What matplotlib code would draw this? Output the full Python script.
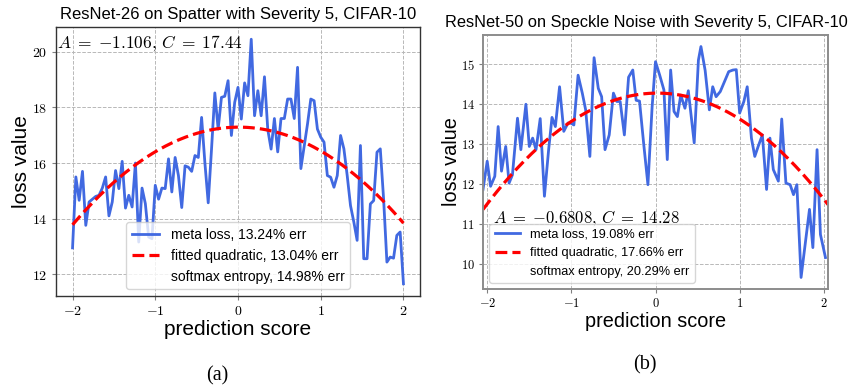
import numpy as np
import matplotlib
matplotlib.use("Agg")
import matplotlib.pyplot as plt
from matplotlib.lines import Line2D
from matplotlib.ticker import FuncFormatter

plt.rcParams['mathtext.fontset'] = 'cm'
plt.rcParams['font.family'] = ['Liberation Sans', 'DejaVu Sans']

# ---------------------------
# (a) ResNet-26, Spatter
# ---------------------------
meta_a = [12.95, 15.5, 14.66, 15.7, 13.76, 14.6, 14.7, 14.8, 14.84, 15.1,
          15.5, 14.1, 14.6, 15.73, 15.08, 16.06, 14.38, 14.84, 14.42, 16.0,
          13.16, 15.1, 14.54, 13.34, 13.28, 15.2, 14.7, 15.1, 15.08, 16.15,
          14.96, 16.2, 15.55, 14.4, 15.9, 15.85, 15.7, 16.27, 16.2, 17.64,
          16.0, 14.57, 16.5, 18.52, 17.22, 18.36, 18.4, 18.96, 16.99, 18.18,
          18.72, 17.58, 18.88, 18.42, 20.45, 17.7, 18.6, 17.7, 19.1, 17.2,
          16.5, 17.6, 16.4, 17.6, 17.6, 18.3, 18.3, 17.6, 19.44, 15.8,
          16.6, 17.4, 18.3, 18.24, 17.22, 16.93, 16.75, 15.55, 15.49, 15.13,
          15.55, 16.99, 16.51, 15.55, 14.47, 13.88, 13.22, 16.63, 12.56, 12.56,
          14.53, 14.65, 16.39, 16.51, 14.71, 12.44, 12.62, 12.58, 13.4, 13.52,
          11.66]
# fitted curve: a*x^2 + b*x + c
fit_a = [-0.87, 0.015, 17.29]
labels_a = ["meta loss, 13.24% err", "fitted quadratic, 13.04% err",
            "softmax entropy, 14.98% err"]
title_a = "ResNet-26 on Spatter with Severity 5, CIFAR-10"
coef_a = r"$A\;=\;{-}1.106,\,C\;=\;17.44$"

# ---------------------------
# (b) ResNet-50, Speckle Noise
# ---------------------------
x_b = [-2.05, -2.0, -1.96, -1.91, -1.87, -1.83, -1.78, -1.74, -1.70, -1.64,
       -1.60, -1.54, -1.50, -1.46, -1.42, -1.37, -1.32, -1.27, -1.23, -1.19,
       -1.14, -1.09, -1.04, -1.00, -0.97, -0.92, -0.87, -0.83, -0.78, -0.73,
       -0.68, -0.64, -0.60, -0.55, -0.50, -0.46, -0.42, -0.37, -0.32, -0.27,
       -0.23, -0.19, -0.14, -0.09, -0.04, 0.0, 0.05, 0.10, 0.14, 0.18,
       0.22, 0.26, 0.30, 0.35, 0.39, 0.46, 0.51, 0.54, 0.59, 0.64,
       0.68, 0.72, 0.77, 0.82, 0.87, 0.92, 0.96, 1.00, 1.05, 1.09,
       1.14, 1.18, 1.22, 1.27, 1.32, 1.36, 1.40, 1.46, 1.50, 1.55,
       1.60, 1.64, 1.68, 1.73, 1.83, 1.87, 1.92, 1.96, 2.02]
meta_b = [11.86, 12.57, 11.94, 12.19, 13.44, 12.32, 12.94, 12.02, 12.23, 13.65,
          12.86, 14.0, 12.94, 13.15, 12.86, 13.64, 11.69, 12.86, 13.67, 13.44,
          14.44, 13.32, 13.53, 13.52, 13.48, 14.73, 14.28, 13.86, 12.69, 15.17,
          14.4, 14.19, 12.86, 13.23, 14.28, 14.07, 14.07, 13.23, 14.68, 14.86,
          14.1, 14.08, 13.0, 11.98, 13.94, 15.07, 14.73, 14.36, 12.61, 14.86,
          13.82, 13.69, 14.23, 13.9, 14.34, 13.03, 15.11, 15.45, 14.85, 13.86,
          14.44, 14.19, 14.32, 14.57, 14.82, 14.86, 14.87, 13.78, 14.07, 14.44,
          13.15, 12.69, 12.94, 13.23, 11.86, 13.15, 12.36, 12.07, 13.63, 12.02,
          11.98, 11.73, 11.98, 9.65, 11.36, 10.4, 12.86, 10.73, 10.15]
fit_b = [-0.6808, 0.03, 14.28]
labels_b = ["meta loss, 19.08% err", "fitted quadratic, 17.66% err",
            "softmax entropy, 20.29% err"]
title_b = "ResNet-50 on Speckle Noise with Severity 5, CIFAR-10"
coef_b = r"$A\;=\;{-}0.6808,\,C\;=\;14.28$"

x_a = np.linspace(-2, 2, len(meta_a))

fig = plt.figure(figsize=(8.52, 3.87), dpi=100)
W, H = 852.0, 387.0
ax1 = fig.add_axes([56 / W, 1 - 296 / H, 364 / W, 269 / H])
ax2 = fig.add_axes([483 / W, 1 - 289 / H, 345 / W, 254 / H])

mathfmt = FuncFormatter(lambda v, p: r"$%g$" % v)


def draw(ax, x, y, fit, xfit, labels, tick_fs, spine_col, spine_w):
    ax.plot(x, y, color="royalblue", lw=2.0, label=labels[0])
    ax.plot(xfit, np.polyval(fit, xfit), color="red", ls="--", lw=2.3,
            label=labels[1])
    ax.grid(True, ls="--", lw=0.7, color="0.72")
    ax.set_axisbelow(True)
    for s in ax.spines.values():
        s.set_color(spine_col)
        s.set_linewidth(spine_w)
    ax.xaxis.set_major_formatter(mathfmt)
    ax.yaxis.set_major_formatter(mathfmt)
    ax.tick_params(length=3, width=0.8, color="0.5", labelsize=tick_fs, pad=3)
    handles = [Line2D([], [], color="royalblue", lw=2.0),
               Line2D([], [], color="red", ls="--", lw=2.3),
               Line2D([], [], ls="none")]
    return handles


# left panel
xf_a = np.linspace(-2, 2, 200)
h1 = draw(ax1, x_a, meta_a, fit_a, xf_a, labels_a, 10, "0.2", 1.0)
ax1.set_xticks([-2, -1, 0, 1, 2])
ax1.set_yticks([12, 14, 16, 18, 20])
ax1.set_title(title_a, fontsize=12, pad=6)
ax1.set_xlabel("prediction score", fontsize=15, labelpad=1)
ax1.set_ylabel("loss value", fontsize=15, labelpad=1)
ax1.text(0.003, 0.975, coef_a, transform=ax1.transAxes, ha="left", va="top",
         fontsize=12.5)
ax1.legend(h1, labels_a, loc="lower center", fontsize=10, framealpha=0.8)

# right panel
xf_b = np.linspace(-2.05, 2.05, 200)
h2 = draw(ax2, x_b, meta_b, fit_b, xf_b, labels_b, 9, "0.55", 1.4)
ax2.set_xlim(-2.05, 2.05)
ax2.set_xticks([-2, -1, 0, 1, 2])
ax2.set_yticks([10, 11, 12, 13, 14, 15])
ax2.set_title(title_b, fontsize=11.8, pad=6, x=0.474)
ax2.set_xlabel("prediction score", fontsize=14.3, labelpad=1)
ax2.set_ylabel("loss value", fontsize=14.3, labelpad=0)
ax2.text(0.03, 0.262, coef_b, transform=ax2.transAxes, ha="left",
         va="baseline", fontsize=12)
ax2.legend(h2, labels_b, loc="lower left", fontsize=9.2, framealpha=0.8)

fig.text(217 / W, 1 - 376 / H, "(a)", ha="center", va="center",
         family="Liberation Serif", fontsize=14.5)
fig.text(645 / W, 1 - 365 / H, "(b)", ha="center", va="center",
         family="Liberation Serif", fontsize=14.5)

fig.savefig("out.png", dpi=100)
